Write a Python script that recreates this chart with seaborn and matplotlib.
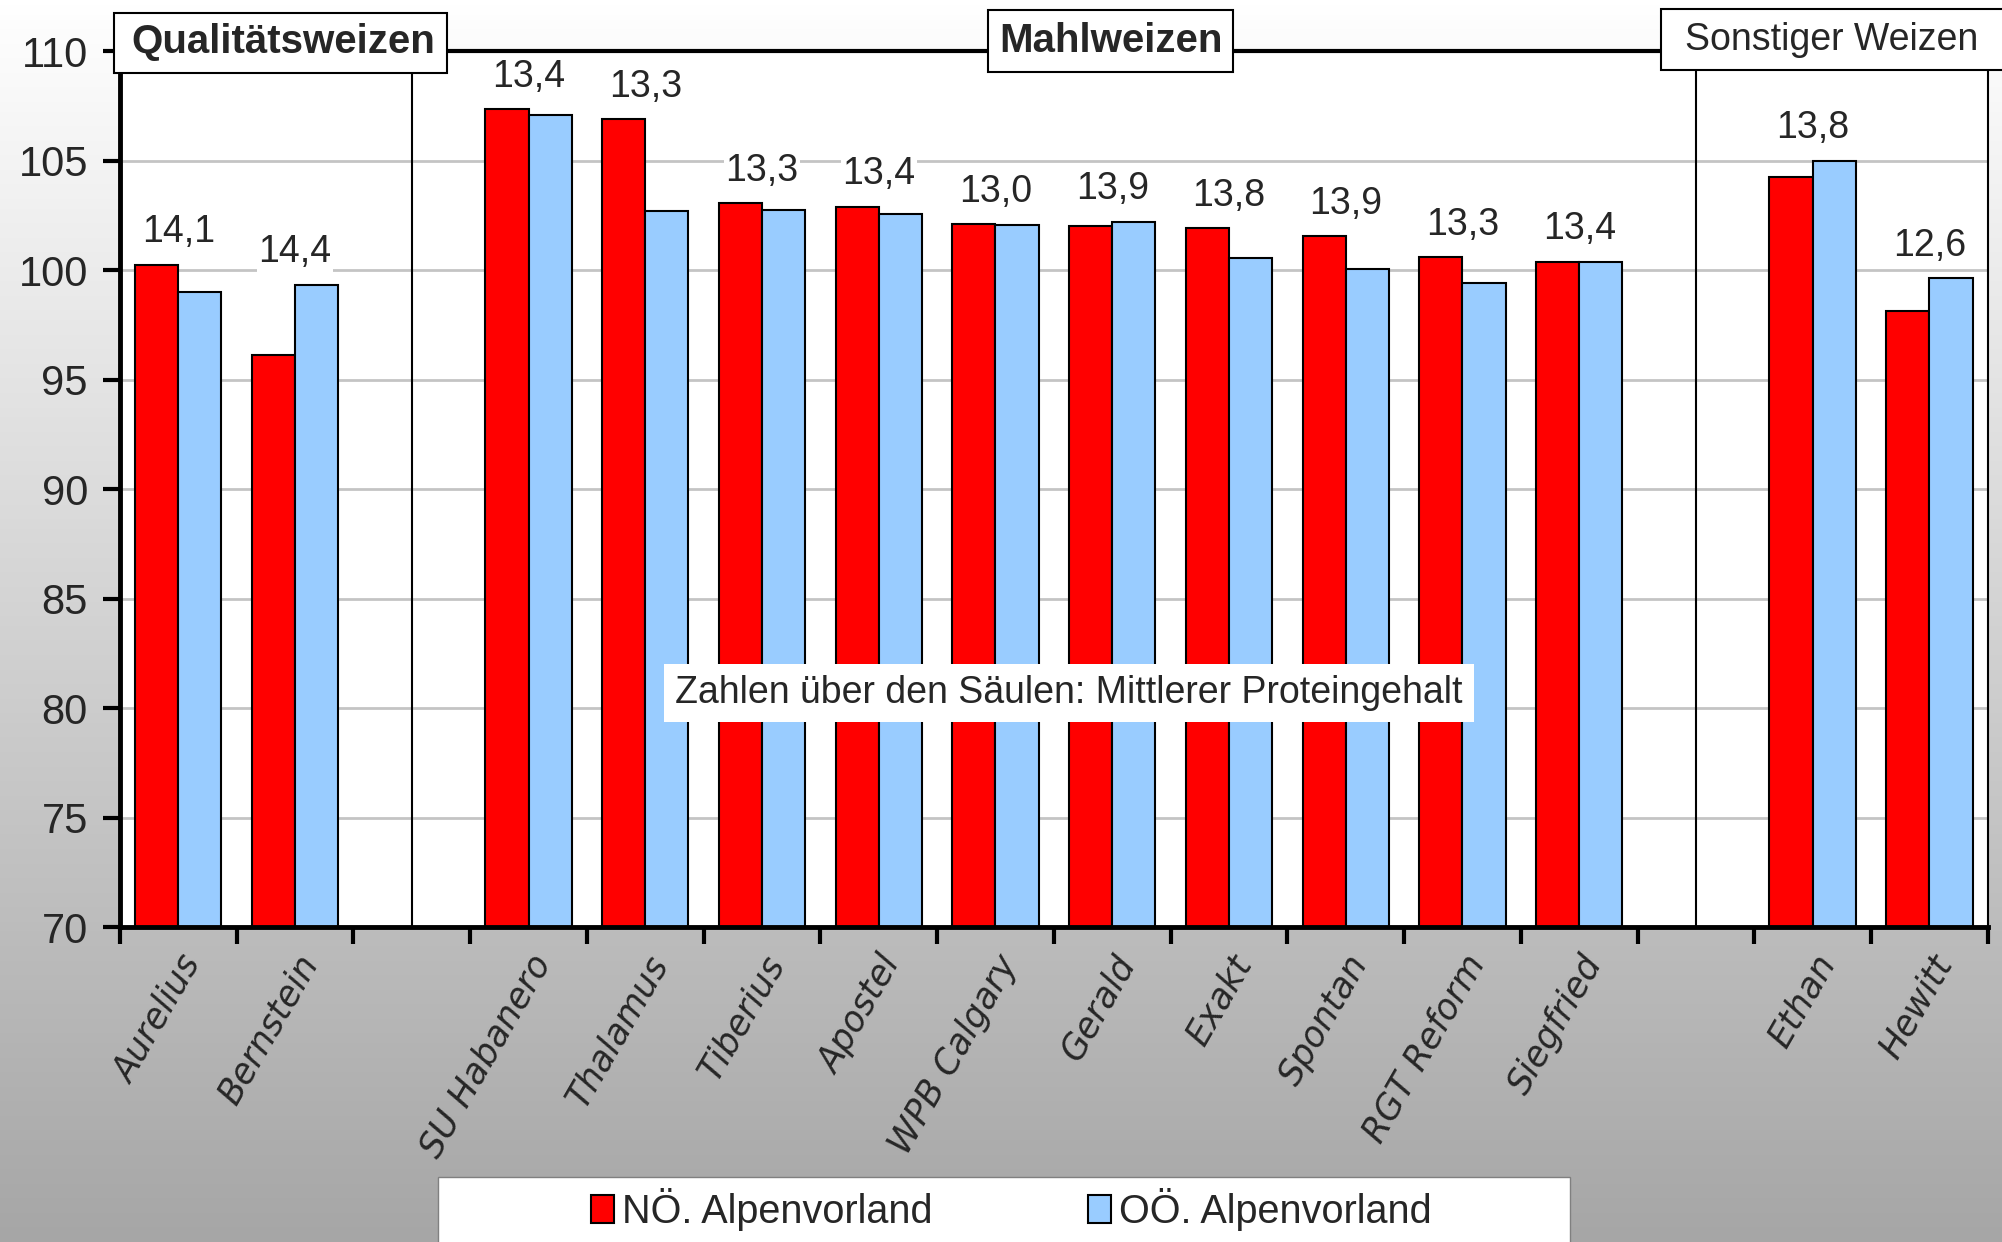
import numpy as np
import pandas as pd
import seaborn as sns
import matplotlib.pyplot as plt
from matplotlib.patches import Rectangle

# slots on the x axis ("" and " " are the empty gaps between groups)
slots = ["Aurelius", "Bernstein", "",
         "SU Habanero", "Thalamus", "Tiberius", "Apostel", "WPB Calgary",
         "Gerald", "Exakt", "Spontan", "RGT Reform", "Siegfried", " ",
         "Ethan", "Hewitt"]
sorten = ["Aurelius", "Bernstein",
          "SU Habanero", "Thalamus", "Tiberius", "Apostel", "WPB Calgary",
          "Gerald", "Exakt", "Spontan", "RGT Reform", "Siegfried",
          "Ethan", "Hewitt"]
noe_werte = [100.25, 96.1, 107.36, 106.89, 103.06, 102.9, 102.09,
             102.01, 101.92, 101.54, 100.6, 100.35, 104.26, 98.13]
ooe_werte = [99.0, 99.33, 107.1, 102.71, 102.73, 102.55, 102.06,
             102.21, 100.55, 100.06, 99.42, 100.39, 105.0, 99.63]
protein = ["14,1", "14,4", "13,4", "13,3", "13,3", "13,4", "13,0",
           "13,9", "13,8", "13,9", "13,3", "13,4", "13,8", "12,6"]
regionen = ["NÖ. Alpenvorland", "OÖ. Alpenvorland"]
farben = ["#FF0000", "#99CCFF"]
gruppen = ["Qualitätsweizen", "Mahlweizen", "Sonstiger Weizen"]

df = pd.DataFrame({
    "Sorte": sorten * 2,
    "Region": [regionen[0]] * len(sorten) + [regionen[1]] * len(sorten),
    "Wert": noe_werte + ooe_werte,
})

sns.set_style("white")
plt.rcParams["font.family"] = ["Liberation Sans", "DejaVu Sans"]
FS = 27

fig = plt.figure(figsize=(20.02, 12.42), dpi=100)

# grey gradient background
bg = fig.add_axes([0, 0, 1, 1], zorder=-5)
grad = np.linspace(1.0, 166 / 255, 256).reshape(-1, 1)
bg.imshow(np.dstack([grad, grad, grad]), aspect="auto", extent=[0, 1, 0, 1])
bg.set_axis_off()

ax = fig.add_axes([0.0599, 0.2536, 0.933, 0.7053])
ax.set_facecolor("white")

sns.barplot(data=df, x="Sorte", y="Wert", hue="Region", order=slots,
            hue_order=regionen, palette=farben, width=0.74, errorbar=None,
            edgecolor="black", linewidth=1.5, saturation=1, ax=ax)

ax.set_ylim(70, 110)
ax.set_xlim(-0.5, len(slots) - 0.5)
ax.set_yticks(range(70, 111, 5))
ax.yaxis.grid(True, color="#C4C4C4", linewidth=2)
ax.set_axisbelow(True)
ax.set_xlabel("")
ax.set_ylabel("")

ax.tick_params(axis="y", which="major", direction="out", length=12, width=3,
               color="black", labelsize=30, pad=11, left=True)
ax.set_xticks(range(len(slots)))
ax.set_xticklabels(slots, rotation=60, ha="right", rotation_mode="anchor",
                   fontsize=25, fontstyle="italic", family="DejaVu Sans")
ax.tick_params(axis="x", which="major", length=0, pad=16)
ax.set_xticks(np.arange(-0.5, len(slots), 1), minor=True)
ax.tick_params(axis="x", which="minor", direction="out", length=12, width=3,
               color="black", bottom=True)

for side in ["left", "bottom"]:
    ax.spines[side].set_linewidth(3.5)
    ax.spines[side].set_color("black")
ax.spines["top"].set_linewidth(3)
ax.spines["top"].set_color("black")
ax.spines["right"].set_linewidth(1.5)
ax.spines["right"].set_color("black")

# group separators
for i, s in enumerate(slots):
    if s.strip() == "":
        ax.axvline(i, color="black", linewidth=1.5, zorder=3)

# protein labels above each pair
for sorte, a, b, p in zip(sorten, noe_werte, ooe_werte, protein):
    ax.annotate(p, xy=(slots.index(sorte), max(a, b)), xytext=(0, 16),
                textcoords="offset points", ha="center", va="baseline",
                fontsize=FS, zorder=5,
                bbox=dict(facecolor="white", edgecolor="none", pad=1))

# group header boxes (figure fraction)
kopf_boxen = [(0.0569, 0.9412, 0.1663, 0.0483),
              (0.4935, 0.9420, 0.1224, 0.0499),
              (0.8297, 0.9436, 0.1800, 0.0491)]
kopf_text = [(0.1415, 0.966, "bold", 29), (0.555, 0.967, "bold", 29),
             (0.915, 0.968, "normal", FS)]
for name, box, (gx, gy, fw, fs) in zip(gruppen, kopf_boxen, kopf_text):
    fig.patches.append(Rectangle(box[:2], box[2], box[3],
                                 transform=fig.transFigure, facecolor="white",
                                 edgecolor="black", linewidth=1.5, zorder=9))
    fig.text(gx, gy, name, ha="center", va="center", fontsize=fs,
             fontweight=fw, zorder=10)

ax.text(0.534, 0.442, "Zahlen über den Säulen: Mittlerer Proteingehalt",
        transform=fig.transFigure, ha="center", va="center", fontsize=FS,
        zorder=10, bbox=dict(facecolor="white", edgecolor="none", pad=8))

# legend
handles, labels = ax.get_legend_handles_labels()
if ax.get_legend() is not None:
    ax.get_legend().remove()
fig.patches.append(Rectangle((0.219, -0.01), 0.565, 0.062,
                             transform=fig.transFigure, facecolor="white",
                             edgecolor="#808080", linewidth=1, zorder=1))
for h, l, lx in zip(handles, labels, [0.2953, 0.5433]):
    leg = fig.legend([h], [l], loc="center left", bbox_to_anchor=(lx, 0.026),
                     frameon=False, fontsize=28.5, handlelength=0.58,
                     handleheight=0.72, handletextpad=0.2, borderpad=0,
                     borderaxespad=0)
    leg.set_zorder(2)

fig.savefig("out.png", dpi=100)
